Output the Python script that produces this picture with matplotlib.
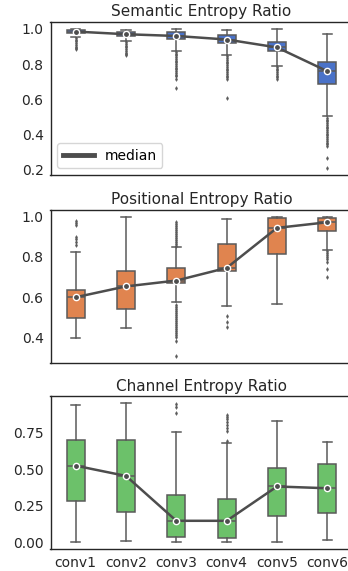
import matplotlib
matplotlib.use("Agg")
import matplotlib.pyplot as plt
from matplotlib.lines import Line2D

layers = ["conv1", "conv2", "conv3", "conv4", "conv5", "conv6"]

# Semantic entropy ratio
sem_q1 = [0.975, 0.960, 0.942, 0.920, 0.873, 0.690]
sem_med = [0.985, 0.970, 0.960, 0.940, 0.895, 0.760]
sem_q3 = [0.992, 0.982, 0.980, 0.965, 0.926, 0.813]
sem_lo = [0.955, 0.932, 0.876, 0.851, 0.790, 0.505]
sem_hi = [1.000, 0.996, 1.000, 0.995, 1.000, 0.970]
sem_fliers = [
    [0.950, 0.940, 0.930, 0.920, 0.910, 0.900, 0.890, 0.886],
    [0.925, 0.915, 0.905, 0.895, 0.885, 0.875, 0.865, 0.858, 0.851],
    [0.870, 0.860, 0.850, 0.840, 0.830, 0.820, 0.810, 0.800, 0.790, 0.780,
     0.770, 0.760, 0.750, 0.740, 0.730, 0.714, 0.667],
    [0.845, 0.835, 0.825, 0.815, 0.805, 0.795, 0.785, 0.775, 0.765, 0.755,
     0.745, 0.735, 0.725, 0.715, 0.610],
    [0.785, 0.775, 0.765, 0.755, 0.745, 0.735, 0.725, 0.715],
    [0.495, 0.485, 0.475, 0.465, 0.455, 0.445, 0.435, 0.425, 0.415, 0.405,
     0.395, 0.385, 0.375, 0.365, 0.355, 0.345, 0.335, 0.267, 0.210],
]

# Positional entropy ratio
pos_q1 = [0.496, 0.542, 0.668, 0.731, 0.814, 0.929]
pos_med = [0.599, 0.653, 0.682, 0.745, 0.944, 0.972]
pos_q3 = [0.637, 0.728, 0.745, 0.864, 0.992, 0.993]
pos_lo = [0.395, 0.446, 0.575, 0.557, 0.564, 0.836]
pos_hi = [0.826, 1.000, 0.847, 0.988, 1.000, 1.000]
pos_fliers = [
    [0.860, 0.875, 0.890, 0.900, 0.960, 0.970, 0.980],
    [],
    [0.855, 0.865, 0.875, 0.885, 0.895, 0.905, 0.915, 0.925, 0.935, 0.945,
     0.955, 0.965, 0.975, 0.560, 0.550, 0.540, 0.530, 0.520, 0.510, 0.500,
     0.490, 0.480, 0.470, 0.460, 0.450, 0.440, 0.430, 0.420, 0.410, 0.400,
     0.380, 0.308],
    [0.507, 0.474, 0.453],
    [],
    [0.830, 0.820, 0.810, 0.800, 0.790, 0.773, 0.740, 0.700],
]

# Channel entropy ratio
ch_q1 = [0.279, 0.206, 0.036, 0.029, 0.181, 0.199]
ch_med = [0.523, 0.453, 0.147, 0.147, 0.381, 0.369]
ch_q3 = [0.698, 0.700, 0.320, 0.295, 0.510, 0.533]
ch_lo = [0.000, 0.007, 0.000, 0.000, 0.000, 0.018]
ch_hi = [0.940, 0.949, 0.752, 0.678, 0.827, 0.682]
ch_fliers = [
    [], [],
    [0.947, 0.925, 0.884],
    [0.872, 0.855, 0.840, 0.820, 0.800, 0.780, 0.760, 0.693],
    [], [],
]

panels = [
    ("Semantic Entropy Ratio", sem_q1, sem_med, sem_q3, sem_lo, sem_hi, sem_fliers, "#4a72c8"),
    ("Positional Entropy Ratio", pos_q1, pos_med, pos_q3, pos_lo, pos_hi, pos_fliers, "#e0844f"),
    ("Channel Entropy Ratio", ch_q1, ch_med, ch_q3, ch_lo, ch_hi, ch_fliers, "#6cc16a"),
]

edge = "#5a5a5a"
line_col = "#4d4d4d"

fig = plt.figure(figsize=(3.48, 5.71), dpi=100)
bottoms = [0.6935, 0.3648, 0.038]
left = 50.5 / 348
width = 302 / 348
height = 0.268

for i, (title, q1, med, q3, lo, hi, fl, col) in enumerate(panels):
    ax = fig.add_axes([left, bottoms[i], width, height])
    stats = []
    for j in range(len(layers)):
        stats.append(dict(q1=q1[j], med=med[j], q3=q3[j], whislo=lo[j],
                          whishi=hi[j], fliers=fl[j], label=layers[j]))
    pos = list(range(len(layers)))
    ax.bxp(stats, positions=pos, widths=0.36, patch_artist=True,
           boxprops=dict(facecolor=col, edgecolor=edge, linewidth=1.1),
           whiskerprops=dict(color=edge, linewidth=1.1),
           capprops=dict(color=edge, linewidth=1.1),
           medianprops=dict(color=edge, linewidth=1.1),
           flierprops=dict(marker="d", markersize=2, markerfacecolor=edge,
                           markeredgecolor=edge, markeredgewidth=0.3,
                           linestyle="none"))
    ax.plot(pos, med, color=line_col, linewidth=1.8, marker="o", markersize=4.5,
            markerfacecolor=line_col, markeredgecolor="white", markeredgewidth=1,
            zorder=5)
    ax.set_xlim(-0.5, 5.5)
    ax.margins(y=0.05)
    ax.autoscale(axis="y")
    ax.set_title(title, fontsize=11, color="#262626", pad=4)
    ax.tick_params(length=0, labelsize=10, labelcolor="#262626", pad=5)
    for s in ax.spines.values():
        s.set_color("#262626")
        s.set_linewidth(1.0)
    ax.set_xticks(pos)
    if i < 2:
        ax.set_xticklabels([])
    else:
        ax.set_xticklabels(layers)
    if i == 0:
        ax.set_yticks([0.2, 0.4, 0.6, 0.8, 1.0])
        ax.legend(handles=[Line2D([], [], color=line_col, linewidth=3.5)],
                  labels=["median"], loc="lower left", fontsize=10,
                  edgecolor="#cccccc", handlelength=2.2)
    elif i == 1:
        ax.set_yticks([0.4, 0.6, 0.8, 1.0])
    else:
        ax.set_yticks([0.0, 0.25, 0.5, 0.75])
        ax.set_yticklabels(["0.00", "0.25", "0.50", "0.75"])

fig.savefig("out.png", dpi=100)
